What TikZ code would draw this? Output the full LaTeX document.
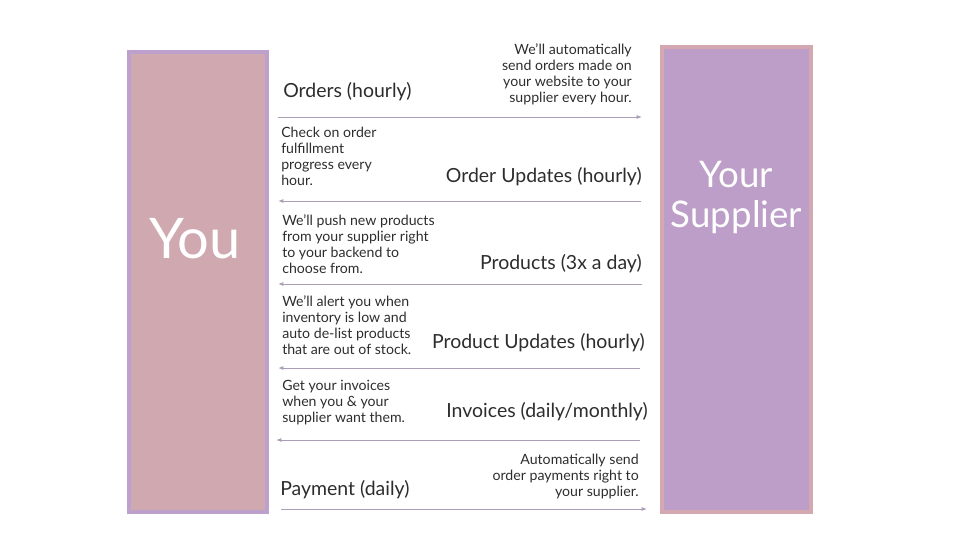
\documentclass[tikz,border=0pt]{standalone}
\usepackage{fontspec}
\setmainfont{Lato}
\usetikzlibrary{arrows.meta,positioning}
\definecolor{youfill}{RGB}{208,168,176}
\definecolor{youedge}{RGB}{190,160,204}
\definecolor{supfill}{RGB}{188,158,200}
\definecolor{supedge}{RGB}{212,168,176}
\definecolor{flowgrey}{RGB}{172,158,182}
\definecolor{txtgrey}{RGB}{45,45,45}
\tikzset{
  party/.style={line width=2.8pt,inner sep=0pt},
  partytxt/.style={text=white,align=center,inner sep=0pt},
  flow/.style={-{Latex[length=4pt,width=3pt]},draw=flowgrey,line width=0.75pt},
  note/.style={font=\fontsize{10.6}{12}\selectfont,text=txtgrey,inner sep=0pt},
  chan/.style={font=\fontsize{14.6}{16}\selectfont,text=txtgrey,inner sep=0pt},
}

\begin{document}
\begin{tikzpicture}[x=0.75pt,y=-0.75pt]
  \useasboundingbox (0,0) rectangle (960,540);

  % the two parties
  \node[party,draw=youedge,fill=youfill,minimum width=104pt,minimum height=345.5pt] (you) at (198,282) {};
  \node[partytxt,font=\fontsize{42}{44}\selectfont] (youtxt) at (195,239) {You};
  \node[party,draw=supedge,fill=supfill,minimum width=112pt,minimum height=349pt] (sup) at (736.5,279.5) {};
  \node[partytxt,font=\fontsize{27.5}{30}\selectfont] (suptxt) at (736.5,198) {Your\\Supplier};

  % arrow ends
  \coordinate (ordA) at (278,117);  \coordinate (ordB) at (642,117);
  \coordinate (updA) at (641,201);  \coordinate (updB) at (278,201);
  \coordinate (prdA) at (642,284);  \coordinate (prdB) at (278,284);
  \coordinate (puA)  at (640,368);  \coordinate (puB)  at (278,368);
  \coordinate (invA) at (640,440);  \coordinate (invB) at (276,440);
  \coordinate (payA) at (281,509);  \coordinate (payB) at (647,509);

  \draw[flow] (ordA) -- (ordB);
  \draw[flow] (updA) -- (updB);
  \draw[flow] (prdA) -- (prdB);
  \draw[flow] (puA) -- (puB);
  \draw[flow] (invA) -- (invB);
  \draw[flow] (payA) -- (payB);

  % channel names
  \node[chan,anchor=west] (ord) at (283,92) {Orders (hourly)};
  \node[chan,anchor=east] (upd) at (642,177) {Order Updates (hourly)};
  \node[chan,anchor=east] (prd) at (642,264) {Products (3x a day)};
  \node[chan,anchor=east] (pu)  at (645,343) {Product Updates (hourly)};
  \node[chan,anchor=east] (inv) at (648,412) {Invoices (daily/monthly)};
  \node[chan,anchor=west] (pay) at (280,490) {Payment (daily)};

  % notes
  \node[note,anchor=north east,align=right] (ordnote) at (632,43)
    {We'll automatically\\send orders made on\\your website to your\\supplier every hour.};
  \node[note,anchor=north west,align=left] (updnote) at (281,127)
    {Check on order\\fulfillment\\progress every\\hour.};
  \node[note,anchor=north west,align=left] (prdnote) at (282,214)
    {We'll push new products\\from your supplier right\\to your backend to\\choose from.};
  \node[note,anchor=north west,align=left] (punote) at (282,295)
    {We'll alert you when\\inventory is low and\\auto de-list products\\that are out of stock.};
  \node[note,anchor=north west,align=left] (invnote) at (282,380)
    {Get your invoices\\when you \& your\\supplier want them.};
  \node[note,anchor=north east,align=right] (paynote) at (639,454)
    {Automatically send\\order payments right to\\your supplier.};
\end{tikzpicture}
\end{document}
